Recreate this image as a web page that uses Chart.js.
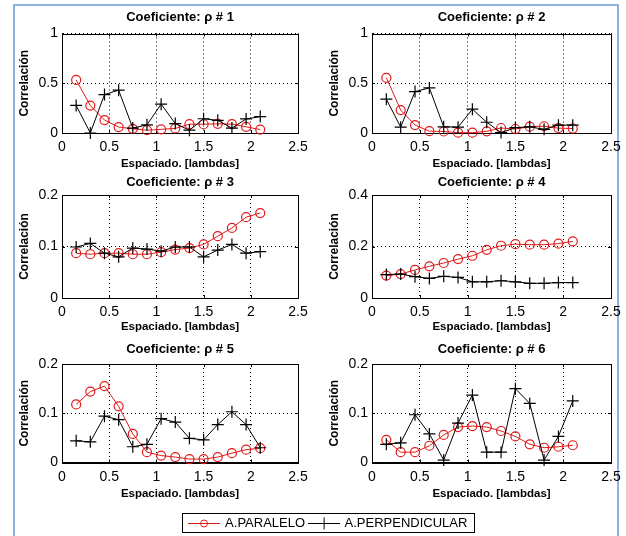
<!DOCTYPE html>
<html>
<head>
<meta charset="utf-8">
<script src="https://cdn.jsdelivr.net/npm/chart.js@4/dist/chart.umd.min.js"></script>
<style>
  html, body { margin: 0; padding: 0; background: #fff; }
  #page { position: relative; width: 626px; height: 536px; overflow: hidden; background: #fff; }
  #frame { position: absolute; left: 13px; top: 4px; width: 602px; height: 600px; border: 2px solid #8eb1dd; }
  canvas { position: absolute; }
  #legendBox { position: absolute; left: 182px; top: 513px; width: 291px; height: 18px; border: 1px solid #000; background: #fff; }
</style>
</head>
<body>
<div id="page">
  <div id="frame"></div>
  <canvas id="c1"></canvas>
  <canvas id="c2"></canvas>
  <canvas id="c3"></canvas>
  <canvas id="c4"></canvas>
  <canvas id="c5"></canvas>
  <canvas id="c6"></canvas>
  <div id="legendBox"></div>
  <canvas id="legend" width="291" height="40" style="left:183px;top:513px;"></canvas>
</div>
<script>
// spacing between antennas, in lambdas (same for every panel)
const spacing = [0.15, 0.3, 0.45, 0.6, 0.75, 0.9, 1.05, 1.2, 1.35, 1.5, 1.65, 1.8, 1.95, 2.1];

// correlation per coefficient, parallel / perpendicular arrangement
const paralelo1 = [0.533, 0.276, 0.13, 0.06, 0.042, 0.028, 0.037, 0.046, 0.089, 0.088, 0.092, 0.089, 0.062, 0.034];
const perpendicular1 = [0.277, 0.0, 0.386, 0.43, 0.049, 0.082, 0.29, 0.095, 0.028, 0.143, 0.127, 0.049, 0.141, 0.165];
const paralelo2 = [0.555, 0.23, 0.08, 0.018, 0.015, 0.003, 0.003, 0.017, 0.05, 0.04, 0.064, 0.068, 0.049, 0.045];
const perpendicular2 = [0.34, 0.059, 0.416, 0.453, 0.062, 0.059, 0.239, 0.108, 0.004, 0.054, 0.062, 0.037, 0.079, 0.079];
const paralelo3 = [0.087, 0.085, 0.087, 0.087, 0.085, 0.085, 0.089, 0.094, 0.097, 0.104, 0.12, 0.136, 0.157, 0.165];
const perpendicular3 = [0.099, 0.106, 0.087, 0.08, 0.097, 0.095, 0.091, 0.099, 0.099, 0.08, 0.093, 0.104, 0.087, 0.09];
const paralelo4 = [0.087, 0.093, 0.109, 0.123, 0.136, 0.151, 0.164, 0.187, 0.203, 0.209, 0.207, 0.207, 0.211, 0.22];
const perpendicular4 = [0.091, 0.093, 0.083, 0.076, 0.084, 0.08, 0.063, 0.063, 0.067, 0.063, 0.057, 0.057, 0.06, 0.06];
const paralelo5 = [0.118, 0.144, 0.155, 0.114, 0.058, 0.021, 0.014, 0.011, 0.007, 0.007, 0.011, 0.019, 0.026, 0.029];
const perpendicular5 = [0.044, 0.042, 0.094, 0.087, 0.032, 0.037, 0.089, 0.082, 0.049, 0.046, 0.077, 0.103, 0.077, 0.03];
const paralelo6 = [0.046, 0.021, 0.021, 0.034, 0.056, 0.072, 0.074, 0.072, 0.064, 0.053, 0.037, 0.03, 0.032, 0.035];
const perpendicular6 = [0.037, 0.04, 0.097, 0.058, 0.005, 0.08, 0.137, 0.021, 0.021, 0.15, 0.12, 0.005, 0.053, 0.125];

const titles = ['Coeficiente: ρ # 1', 'Coeficiente: ρ # 2', 'Coeficiente: ρ # 3',
                'Coeficiente: ρ # 4', 'Coeficiente: ρ # 5', 'Coeficiente: ρ # 6'];
const yMax = [1, 1, 0.2, 0.4, 0.2, 0.2];
const yStep = [0.5, 0.5, 0.1, 0.2, 0.1, 0.1];
const xMax = 2.5;
const xStep = 0.5;
const xTitle = 'Espaciado. [lambdas]';
const yTitle = 'Correlación';
const legendLabels = ['A.PARALELO', 'A.PERPENDICULAR'];

const paralelo = [paralelo1, paralelo2, paralelo3, paralelo4, paralelo5, paralelo6];
const perpendicular = [perpendicular1, perpendicular2, perpendicular3, perpendicular4, perpendicular5, perpendicular6];

const FONT = "'Liberation Sans', Arial, sans-serif";
const RED = 'rgb(225,26,26)';
Chart.defaults.font.family = FONT;
Chart.defaults.color = '#000';

// canvas placement per panel (3 rows x 2 columns)
const rows = [
  { top: 0,   h: 175, titlePad: { top: 9.7, bottom: 8.2 }, xH: 37.9, padB: 4.1 },
  { top: 170, h: 170, titlePad: { top: 4.5, bottom: 4.9 }, xH: 35.9, padB: 6.1 },
  { top: 340, h: 170, titlePad: { top: 1.2, bottom: 7.2 }, xH: 38.4, padB: 9.1 },
];
const cols = [
  { left: 0,   yW: 62, yTitlePad: 17.8 },
  { left: 313, yW: 59, yTitlePad: 14.8 },
];

const fmt = v => String(+Number(v).toFixed(2));

// MATLAB style box with inward ticks
const axesBox = {
  id: 'axesBox',
  beforeDatasetsDraw(chart) {
    const { ctx, chartArea: a, scales: { x, y } } = chart;
    const snap = v => Math.round(v) + 0.5;
    ctx.save();
    ctx.setLineDash([]);
    ctx.strokeStyle = '#000';
    ctx.lineWidth = 1;
    ctx.strokeRect(snap(a.left), snap(a.top), Math.round(a.right) - Math.round(a.left), Math.round(a.bottom) - Math.round(a.top));
    ctx.beginPath();
    x.ticks.forEach(t => {
      const px = snap(x.getPixelForValue(t.value));
      ctx.moveTo(px, a.bottom); ctx.lineTo(px, a.bottom - 3);
      ctx.moveTo(px, a.top); ctx.lineTo(px, a.top + 3);
    });
    y.ticks.forEach(t => {
      const py = snap(y.getPixelForValue(t.value));
      ctx.moveTo(a.left, py); ctx.lineTo(a.left + 3, py);
      ctx.moveTo(a.right, py); ctx.lineTo(a.right - 3, py);
    });
    ctx.stroke();
    ctx.restore();
  }
};

function points(series) {
  return spacing.map((x, k) => ({ x, y: series[k] }));
}

function makePanel(i) {
  const row = rows[Math.floor(i / 2)];
  const col = cols[i % 2];
  const canvas = document.getElementById('c' + (i + 1));
  canvas.width = 313;
  canvas.height = row.h;
  canvas.style.left = col.left + 'px';
  canvas.style.top = row.top + 'px';

  return new Chart(canvas, {
    type: 'line',
    data: {
      datasets: [
        {
          label: legendLabels[0],
          data: points(paralelo[i]),
          borderColor: RED,
          borderWidth: 1,
          backgroundColor: 'transparent',
          pointStyle: 'circle',
          pointRadius: 4.5,
          pointBorderWidth: 1.2,
          pointBorderColor: RED,
          pointBackgroundColor: 'transparent',
          clip: false,
          order: 1,
        },
        {
          label: legendLabels[1],
          data: points(perpendicular[i]),
          borderColor: '#000',
          borderWidth: 1,
          backgroundColor: 'transparent',
          pointStyle: 'cross',
          pointRadius: 6,
          pointBorderWidth: 1.2,
          pointBorderColor: '#000',
          clip: false,
          order: 0,
        },
      ],
    },
    options: {
      responsive: false,
      animation: false,
      events: [],
      layout: { padding: { left: 0, right: 15, top: 0, bottom: row.padB } },
      plugins: {
        legend: { display: false },
        tooltip: { enabled: false },
        title: {
          display: true,
          text: titles[i],
          fullSize: false,
          color: '#000',
          font: { family: FONT, size: 13, weight: 'bold' },
          padding: row.titlePad,
        },
      },
      scales: {
        x: {
          type: 'linear',
          min: 0,
          max: xMax,
          ticks: { stepSize: xStep, padding: 6, color: '#000', maxRotation: 0, font: { size: 14 }, callback: fmt },
          grid: { color: '#000', lineWidth: 1, drawTicks: false },
          border: { color: '#000', width: 1, dash: [1, 3] },
          title: { display: true, text: xTitle, color: '#000', font: { size: 11.5, weight: 'bold' }, padding: { top: 0, bottom: 0 } },
          afterFit: s => { s.height = row.xH; s.paddingLeft = 0; s.paddingRight = 0; },
        },
        y: {
          min: 0,
          max: yMax[i],
          ticks: { stepSize: yStep[i], padding: 4, color: '#000', font: { size: 14 }, callback: fmt },
          grid: { color: '#000', lineWidth: 1, drawTicks: false },
          border: { color: '#000', width: 1, dash: [1, 3] },
          title: { display: true, text: yTitle, color: '#000', font: { size: 12, weight: 'bold' }, padding: { top: col.yTitlePad, bottom: 0 } },
          afterFit: s => { s.width = col.yW; s.paddingTop = 0; s.paddingBottom = 0; },
        },
      },
    },
    plugins: [axesBox],
  });
}

for (let i = 0; i < 6; i++) makePanel(i);

// legend swatches: line with marker, as small images for the legend
function swatch(color, marker) {
  const c = document.createElement('canvas');
  c.width = 32;
  c.height = 13;
  const g = c.getContext('2d');
  g.strokeStyle = color;
  g.lineWidth = 1;
  g.beginPath();
  g.moveTo(0, 6.5);
  g.lineTo(32, 6.5);
  g.stroke();
  g.beginPath();
  if (marker === 'circle') {
    g.arc(16, 6.5, 3.5, 0, Math.PI * 2);
  } else {
    g.moveTo(16.5, 0.5);
    g.lineTo(16.5, 12.5);
  }
  g.stroke();
  return c;
}

const legendIcons = [swatch(RED, 'circle'), swatch('#000', 'cross')];

new Chart(document.getElementById('legend'), {
  type: 'line',
  data: {
    datasets: legendLabels.map(label => ({ label, data: [] })),
  },
  options: {
    responsive: false,
    animation: false,
    events: [],
    layout: { padding: 0 },
    scales: { x: { display: false }, y: { display: false } },
    plugins: {
      tooltip: { enabled: false },
      legend: {
        display: true,
        position: 'top',
        align: 'center',
        labels: {
          usePointStyle: true,
          pointStyleWidth: 29,
          padding: 4,
          color: '#000',
          font: { size: 13 },
          generateLabels: () => legendLabels.map((text, k) => ({
            text,
            pointStyle: legendIcons[k],
            fillStyle: 'transparent',
            strokeStyle: 'transparent',
            lineWidth: 0,
            fontColor: '#000',
            hidden: false,
            datasetIndex: k,
          })),
        },
      },
    },
  },
});
</script>
</body>
</html>
